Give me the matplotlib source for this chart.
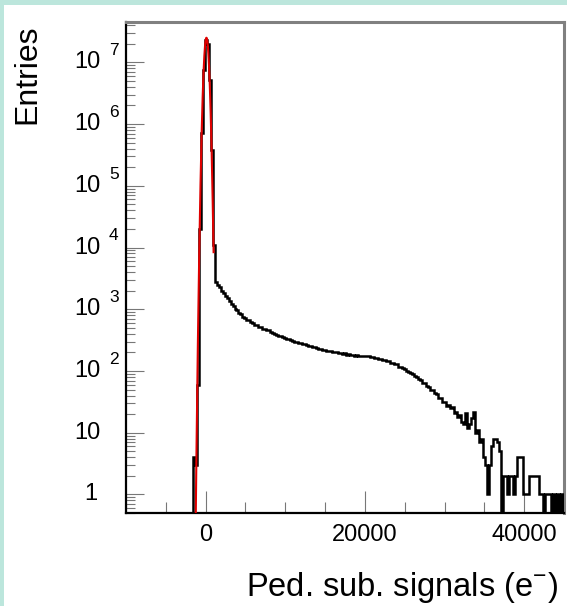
import numpy as np
import matplotlib
matplotlib.use("Agg")
import matplotlib.pyplot as plt
import matplotlib.transforms as mtrans
from matplotlib.patches import Rectangle
from matplotlib.ticker import FixedLocator, MultipleLocator, LogLocator, NullFormatter

plt.rcParams['font.family'] = ['Liberation Sans', 'DejaVu Sans']
plt.rcParams['mathtext.fontset'] = 'custom'
plt.rcParams['mathtext.rm'] = 'Liberation Sans'
plt.rcParams['mathtext.it'] = 'Liberation Sans'

# ---------------- data ----------------
first_bin_low = -1625          # lower edge of the first filled bin (e-)
bin_width = 250                # e-
peak_counts = [4, 3, 60, 2.0e4, 7.2e5, 7.5e6, 2.3e7, 2.0e7, 5.2e6, 3.8e5, 1.1e4, 2800]
tail_counts = [
    2450, 2250, 1960, 1860,
    1630, 1530, 1370, 1230,
    1120, 1020, 960, 870,
    830, 760, 730, 670,
    660, 610, 600, 560,
    550, 515, 510, 480,
    480, 460, 455, 430,
    418, 402, 384, 372,
    362, 350, 340, 331,
    326, 312, 304, 300,
    290, 288, 281, 270,
    276, 262, 258, 252,
    246, 240, 236, 228,
    228, 220, 222, 212,
    214, 210, 206, 203,
    204, 196, 198, 190,
    192, 184, 186, 180,
    181, 178, 182, 176,
    178, 172, 176, 172,
    174, 166, 170, 163,
    164, 156, 158, 150,
    150, 145, 144, 136,
    136, 128, 128, 118,
    118, 110, 108, 100,
    98, 91, 88, 82,
    80, 73, 71, 64,
    63, 57, 56, 49,
    50, 44, 43, 37,
    37, 32, 32, 27,
    28, 25, 26, 21,
    22, 18, 19, 15,
    14, 21, 12, 14,
    17, 22, 10, 11,
    7, 8, 4, 3,
    1, 3, 6, 8,
    8, 7, 5, 0,
    2, 2, 1, 2,
    2, 1, 2, 4,
    4, 4, 1, 1,
    1, 2, 2, 2,
    2, 2, 1, 1,
    0, 1, 1, 1,
    0, 1, 0, 1,
    0, 1,
]
counts = np.array(peak_counts + tail_counts, dtype=float)

fit_amplitude = 2.5e7
fit_mean = 100.0
fit_sigma = 225.03
fit_range = (-1500, 1000)

x_limits = (-10000, 45000)
y_limits = (0.5, 4.5e7)
x_major = [0, 20000, 40000]
x_major_labels = ["0", "20000", "40000"]
y_decades = [0, 1, 2, 3, 4, 5, 6, 7]

noise_text = r"Noise=225.03$\pm$0.02 e$^{-}$"
x_title = r"Ped. sub. signals (e$^{-}$)"
y_title = "Entries"

# ---------------- figure ----------------
W, H = 567, 606
fig = plt.figure(figsize=(W / 100, H / 100), dpi=100)
fig.patch.set_facecolor("#bce6dc")
fig.patches.append(Rectangle((4 / W, 0), 1 - 4 / W, 1 - 5 / H, transform=fig.transFigure,
                             facecolor="white", edgecolor="none", zorder=-10))

ax_left, ax_right, ax_top, ax_bottom = 126, 564, 22, 513
ax = fig.add_axes([ax_left / W, 1 - ax_bottom / H, (ax_right - ax_left) / W, (ax_bottom - ax_top) / H])
ax.set_zorder(5)
ax.set_facecolor("white")
ax.set_yscale("log", nonpositive="clip")
ax.set_xlim(*x_limits)
ax.set_ylim(*y_limits)

edges = first_bin_low + bin_width * np.arange(len(counts) + 1)
draw_vals = np.where(counts > 0, counts, 1e-3)
ax.stairs(draw_vals, edges, baseline=1e-3, color="black", lw=1.8, zorder=3)

xf = np.linspace(fit_range[0], fit_range[1], 600)
yf = fit_amplitude * np.exp(-0.5 * ((xf - fit_mean) / fit_sigma) ** 2)
ax.plot(xf, yf, color="#e00000", lw=1.5, zorder=4)

# spines
for s in ["left", "bottom"]:
    ax.spines[s].set_color("black")
    ax.spines[s].set_linewidth(1.6)
for s in ["top", "right"]:
    ax.spines[s].set_color("#808080")
    ax.spines[s].set_linewidth(2.2)

# ticks
ax.xaxis.set_major_locator(FixedLocator(x_major))
ax.xaxis.set_minor_locator(MultipleLocator(5000))
ax.set_xticklabels(x_major_labels)
ax.tick_params(axis="x", which="major", direction="in", length=16, width=0.8, color="#777777",
               labelsize=17, pad=8, top=False)
ax.tick_params(axis="x", which="minor", direction="in", length=8, width=0.8, color="#777777", top=False)

ax.yaxis.set_major_locator(LogLocator(base=10, numticks=20))
ax.yaxis.set_minor_locator(LogLocator(base=10, subs=np.arange(2, 10), numticks=20))
ax.yaxis.set_minor_formatter(NullFormatter())
ax.tick_params(axis="y", which="major", direction="in", length=13, width=0.8, color="#777777",
               labelleft=False, right=False)
ax.tick_params(axis="y", which="minor", direction="in", length=6.5, width=0.8, color="#777777", right=False)

# y tick labels in ROOT style: "10" with separated exponent
bt = mtrans.blended_transform_factory(fig.transFigure, ax.transData)
for n in y_decades:
    if n == 0:
        ax.text(97 / W, 10 ** n, "1", transform=bt, ha="right", va="center", fontsize=17, clip_on=False)
    else:
        ax.text(101 / W, 10 ** n, "10", transform=bt, ha="right", va="center", fontsize=17, clip_on=False)
        if n >= 2:
            ax.text(109 / W, 10 ** (n + 0.19), str(n), transform=bt, ha="left", va="center",
                    fontsize=12.5, clip_on=False)

# titles
fig.text(558 / W, 1 - 596 / H, x_title, ha="right", va="baseline", fontsize=23.5)
fig.text(35 / W, 1 - 25 / H, y_title, ha="right", va="baseline", rotation=90, fontsize=23,
         rotation_mode="anchor")
fig.text(215 / W, 1 - 95 / H, noise_text, ha="left", va="baseline", fontsize=24)

fig.savefig("out.png", dpi=100, facecolor=fig.get_facecolor())
